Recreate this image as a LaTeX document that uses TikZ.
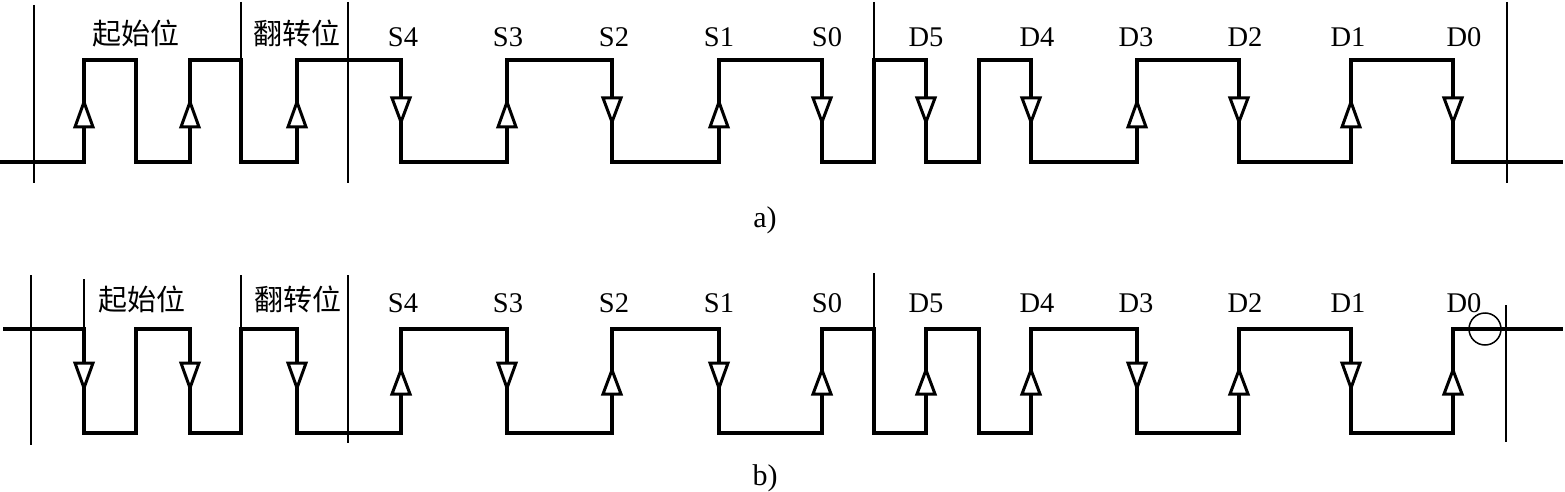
\documentclass[tikz,border=0pt]{standalone}
\usepackage{fontspec}
\setmainfont{Liberation Serif}
\newfontfamily\cjk{Noto Sans CJK SC}
\begin{document}
\begin{tikzpicture}[x=1pt,y=-1pt,
  wave/.style={line width=3.3pt,line join=miter},
  divider/.style={line width=1.5pt},
  tri/.style={line width=3pt,fill=white,line join=miter},
  lab/.style={font=\fontsize{28.5}{30}\selectfont,anchor=base,inner sep=0pt},
  cjklab/.style={font=\cjk\fontsize{29}{30}\selectfont,anchor=base,inner sep=0pt},
  caplab/.style={font=\fontsize{30}{32}\selectfont,anchor=base,inner sep=0pt}]
\useasboundingbox (0,0) rectangle (1565,492);
\fill[white] (0,0) rectangle (1565,492);

% ---------- a) ----------
\draw[wave] (0,162) -| (84,60) -| (136,162) -| (190,60) -| (241,162) -| (297,60)
  -| (401,162) -| (507,60) -| (612,162) -| (719,60) -| (822,162) -| (874,60)
  -| (926,162) -| (979,60) -| (1031,162) -| (1137,60) -| (1239,162) -| (1351,60)
  -| (1453,162) -- (1563,162);
\draw[divider] (34,5) -- (34,183);
\draw[divider] (241,2) -- (241,60);
\draw[divider] (348,2) -- (348,183);
\draw[divider] (874,2) -- (874,60);
\draw[divider] (1507,2) -- (1507,183);
\foreach \x in {84,190,297,507,719,1137,1351}
  \draw[tri] (\x-9,127) -- (\x+9,127) -- (\x,102) -- cycle;
\foreach \x in {401,612,822,926,1031,1239,1453}
  \draw[tri] (\x-9,98) -- (\x+9,98) -- (\x,122) -- cycle;

\node[cjklab] (qa) at (136,45) {起始位};
\node[cjklab] (fa) at (297,45) {翻转位};
\node[lab] (s4a) at (403,47) {S4};
\node[lab] (s3a) at (508,47) {S3};
\node[lab] (s2a) at (614,47) {S2};
\node[lab] (s1a) at (719,47) {S1};
\node[lab] (s0a) at (827,47) {S0};
\node[lab] (d5a) at (926,47) {D5};
\node[lab] (d4a) at (1037,47) {D4};
\node[lab] (d3a) at (1136,47) {D3};
\node[lab] (d2a) at (1245,47) {D2};
\node[lab] (d1a) at (1348,47) {D1};
\node[lab] (d0a) at (1464,47) {D0};
\node[caplab] (capa) at (765,227) {a)};

% ---------- b) ----------
\draw[wave] (3,329) -| (84,433) -| (136,329) -| (190,433) -| (241,329) -| (297,433)
  -| (401,329) -| (507,433) -| (612,329) -| (719,433) -| (822,329) -| (874,433)
  -| (926,329) -| (979,433) -| (1031,329) -| (1137,433) -| (1239,329) -| (1351,433)
  -| (1453,329) -- (1563,329);
\draw[divider] (31,275) -- (31,445);
\draw[divider] (84,279) -- (84,329);
\draw[divider] (241,275) -- (241,329);
\draw[divider] (348,275) -- (348,443);
\draw[divider] (874,273) -- (874,329);
\draw[divider] (1506,305) -- (1506,442);
\draw[divider] (1485,329) circle[radius=16];
\foreach \x in {84,190,297,507,719,1137,1351}
  \draw[tri] (\x-9,363) -- (\x+9,363) -- (\x,388) -- cycle;
\foreach \x in {401,612,822,926,1031,1239,1453}
  \draw[tri] (\x-9,394) -- (\x+9,394) -- (\x,370) -- cycle;

\node[cjklab] (qb) at (142,310) {起始位};
\node[cjklab] (fb) at (298,310) {翻转位};
\node[lab] (s4b) at (403,312) {S4};
\node[lab] (s3b) at (508,312) {S3};
\node[lab] (s2b) at (614,312) {S2};
\node[lab] (s1b) at (719,312) {S1};
\node[lab] (s0b) at (827,312) {S0};
\node[lab] (d5b) at (926,312) {D5};
\node[lab] (d4b) at (1037,312) {D4};
\node[lab] (d3b) at (1136,312) {D3};
\node[lab] (d2b) at (1245,312) {D2};
\node[lab] (d1b) at (1348,312) {D1};
\node[lab] (d0b) at (1464,312) {D0};
\node[caplab] (capb) at (765,485) {b)};
\end{tikzpicture}
\end{document}
